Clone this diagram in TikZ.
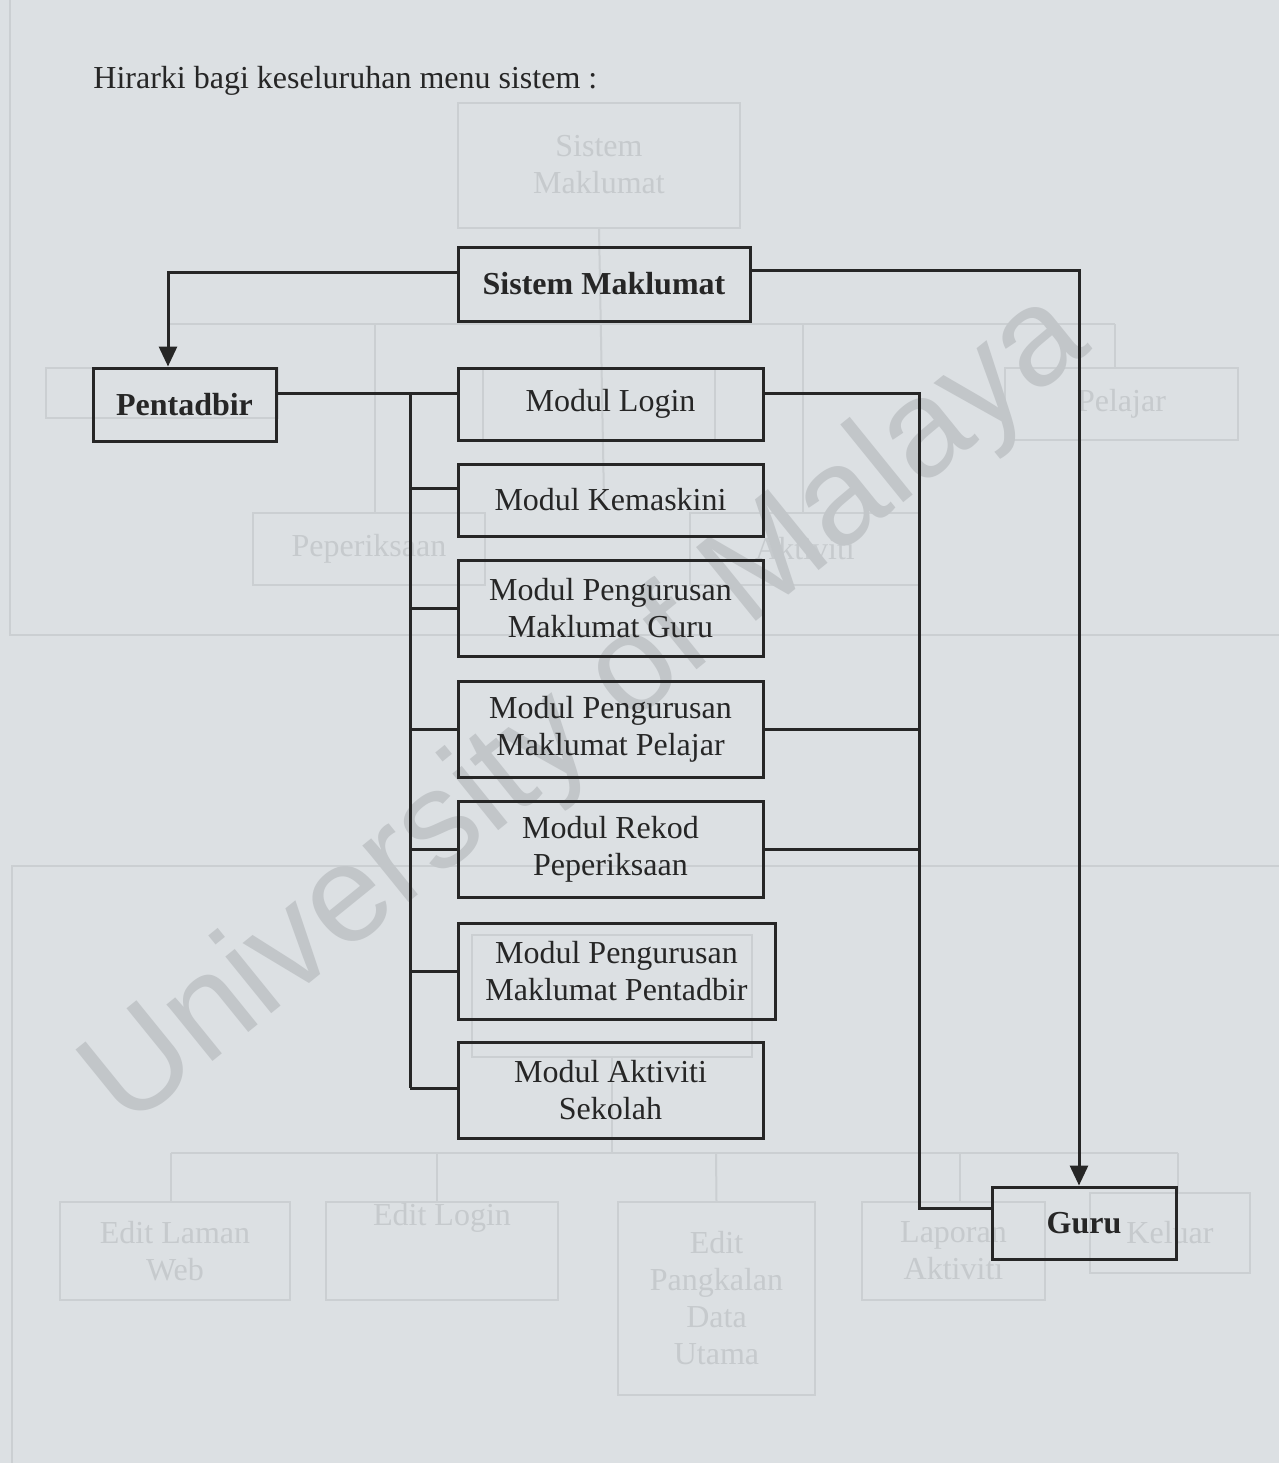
\documentclass[tikz,border=0pt]{standalone}
\usepackage{fontspec}
\setmainfont{Liberation Serif}
\newfontfamily\wmfont{Liberation Sans}
\usetikzlibrary{arrows.meta}
\definecolor{paper}{HTML}{DCE0E3}
\definecolor{ink}{HTML}{262626}
\definecolor{ghost}{HTML}{CBCFD2}
\definecolor{ghosttext}{HTML}{C6CACD}
\definecolor{wmark}{HTML}{C2C6C9}
\begin{document}
\begin{tikzpicture}[x=0.5pt,y=-0.5pt,
  box/.style={draw=ink,line width=1.5pt,minimum height=36pt,inner sep=0pt,align=center,
    font=\fontsize{16}{18.5}\selectfont,text=ink},
  modbox/.style={box,minimum width=152.5pt},
  tallbox/.style={modbox,minimum height=48pt},
  bold/.style={font=\fontsize{16}{18.5}\selectfont\bfseries},
  link/.style={draw=ink,line width=1.5pt},
  arr/.style={link,-{Triangle[length=10pt,width=9pt]}},
  gbox/.style={draw=ghost,line width=1pt,inner sep=0pt,align=center,
    font=\fontsize{16}{18.5}\selectfont,text=ghosttext},
  gline/.style={draw=ghost,line width=1pt}]
% paper
\fill[paper] (0,0) rectangle (1279,1463);
\useasboundingbox (0,0) rectangle (1279,1463);

% faint print from the reverse side
\draw[gline] (10,0) -- (10,635) -- (1279,635);
\draw[gline] (12,1463) -- (12,866) -- (1279,866);
\node[gbox,minimum width=141pt,minimum height=62.5pt] (g0) at (599,165) {Sistem\\Maklumat};
\node[gbox,minimum width=116pt,minimum height=25pt] (g1) at (162,393) {};
\node[gbox,minimum width=116pt,minimum height=36pt] (g2) at (599,404) {};
\node[gbox,minimum width=116.5pt,minimum height=36pt] (g3) at (1121.5,404) {Pelajar};
\node[gbox,minimum width=116pt,minimum height=36pt] (g4) at (369,549) {Peperiksaan};
\node[gbox,minimum width=115pt,minimum height=36pt] (g5) at (805,549) {Aktiviti};
\draw[gline] (g0.south) -- (604,500);
\draw[gline] (170,324) -- (1115,324);
\draw[gline] (1115,324) -- (g3.north -| 1115,0);
\draw[gline] (375,324) -- (g4.north -| 375,0);
\draw[gline] (803,324) -- (g5.north -| 803,0);
\node[gbox,minimum width=140pt,minimum height=61pt] (g6) at (612,996) {};
\node[gbox,minimum width=115pt,minimum height=49pt] (g7) at (175,1251) {Edit Laman\\Web};
\node[gbox,minimum width=116pt,minimum height=49pt] (g8) at (442,1251) {Edit Login\\[18pt]};
\node[gbox,minimum width=98.5pt,minimum height=96.5pt] (g9) at (716.5,1298.5) {Edit\\Pangkalan\\Data\\Utama};
\node[gbox,minimum width=91.5pt,minimum height=49pt] (g10) at (953.5,1251) {Laporan\\Aktiviti};
\node[gbox,minimum width=80pt,minimum height=40pt] (g11) at (1170,1233) {Keluar};
\draw[gline] (g6.south) -- (612,1153);
\draw[gline] (171,1153) -- (1178,1153);
\draw[gline] (171,1153) -- (g7.north -| 171,0);
\draw[gline] (437,1153) -- (g8.north -| 437,0);
\draw[gline] (716,1153) -- (g9.north);
\draw[gline] (960,1153) -- (g10.north -| 960,0);
\draw[gline] (1178,1153) -- (g11.north -| 1178,0);

% watermark
\node[text=wmark,font=\wmfont\fontsize{69}{69}\selectfont,rotate=39] (wm) at (588,712) {University of Malaya};

% heading
\node[anchor=base west,font=\fontsize{16}{18.5}\selectfont,text=ink,inner sep=0pt] (title) at (93,88)
  {Hirarki bagi keseluruhan menu sistem :};

% boxes
\node[box,bold,minimum width=146pt,minimum height=37pt] (sm) at (604,284) {Sistem Maklumat};
\node[box,bold,minimum width=91.5pt,minimum height=36.5pt] (pent) at (184.5,404.5) {Pentadbir};
\node[modbox] (login) at (610.5,404) {Modul Login};
\node[modbox] (kemas) at (610.5,500) {Modul Kemaskini};
\node[tallbox] (mpg) at (610.5,608) {Modul Pengurusan\\Maklumat Guru};
\node[tallbox] (mpp) at (610.5,729) {Modul Pengurusan\\Maklumat Pelajar};
\node[tallbox] (rekod) at (610.5,849.5) {Modul Rekod\\Peperiksaan};
\node[tallbox,minimum width=158.5pt] (mpa) at (616.5,971) {Modul Pengurusan\\Maklumat Pentadbir};
\node[tallbox] (akt) at (610.5,1090.5) {Modul Aktiviti\\Sekolah};
\node[box,bold,minimum width=92pt] (guru) at (1084,1223) {Guru};

% bus junctions
\coordinate (lt) at (410,393);
\coordinate (lb) at (410,1088);
\coordinate (rt) at (919,393);
\coordinate (rb) at (919,1208);

% top-level arrows
\draw[arr] ([yshift=6pt]sm.west) -| ([xshift=-8.25pt]pent.north);
\draw[arr] ([yshift=7pt]sm.east) -| ([xshift=-2.5pt]guru.north);

% administrator side
\draw[link] ([yshift=5.75pt]pent.east) -- ([yshift=5.5pt]login.west);
\draw[link] (lt) -- (lb);
\draw[link] (lt |- kemas.west) ++(0,-12) -- ([yshift=6pt]kemas.west);
\draw[link] (lt |- mpg.west) -- (mpg.west);
\draw[link] (lt |- mpp.west) -- (mpp.west);
\draw[link] (lt |- rekod.west) -- (rekod.west);
\draw[link] (lt |- mpa.west) -- (mpa.west);
\draw[link] (lb) -- (akt.west |- lb);

% teacher side
\draw[link] ([yshift=5.5pt]login.east) -- (rt) -- (rb) -- (guru.west |- rb);
\draw[link] (mpp.east) -- (rt |- mpp.east);
\draw[link] (rekod.east) -- (rt |- rekod.east);
\end{tikzpicture}
\end{document}
